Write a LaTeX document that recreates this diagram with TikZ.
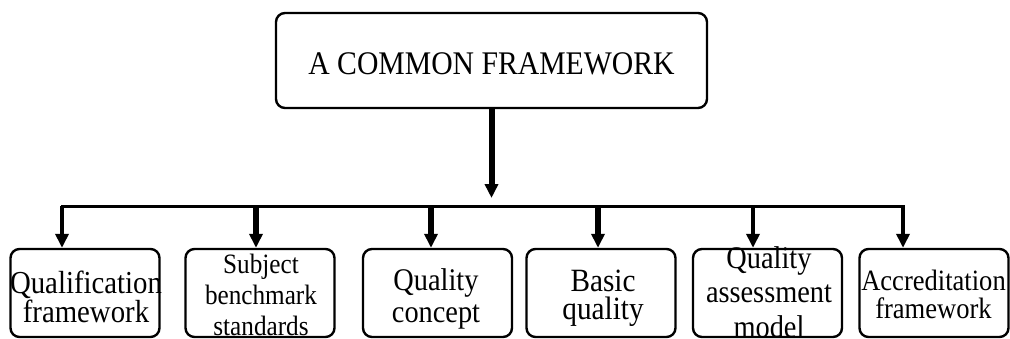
\documentclass[tikz,border=0pt]{standalone}
\usepackage{fontspec}
\setmainfont{Liberation Serif}[FakeStretch=0.9]
\usetikzlibrary{arrows.meta}

\begin{document}
\begin{tikzpicture}[x=1pt, y=-1pt,
    fwbox/.style={draw, line width=2.4pt, rounded corners=9pt, inner sep=0pt,
        minimum width=149pt, minimum height=88pt},
    fwtext/.style 2 args={align=center, inner sep=0pt,
        font={\fontsize{#1}{#2}\selectfont\lineskiplimit=-100pt}},
    feed/.style={line width=#1, -{Triangle[length=14pt, width=13pt]}},
    feed/.default=4pt]
    \useasboundingbox (0,0) rectangle (1010,338);

    % Caixa principal
    \node[fwbox, minimum width=431pt, minimum height=95pt] (common) at (491.5,60.5) {};
    \node[fwtext={33}{36}] (commontxt) at (491.5,64) {A COMMON FRAMEWORK};

    % Caixas dos componentes
    \node[fwbox] (qual)  at (85,293)    {};
    \node[fwbox] (subj)  at (260,293)   {};
    \node[fwbox] (conc)  at (437.5,293) {};
    \node[fwbox] (basic) at (601,293)   {};
    \node[fwbox] (assm)  at (767.5,293) {};
    \node[fwbox] (accr)  at (934,293)   {};

    % Textos das caixas
    \node[fwtext={32}{29}]     (qualtxt)  at (86,296.5)  {Qualification\\framework};
    \node[fwtext={28}{31}]     (subjtxt)  at (261,294.5) {Subject\\benchmark\\standards};
    \node[fwtext={31.5}{32}]   (conctxt)  at (436,298.5) {Quality\\concept};
    \node[fwtext={32.5}{28}]   (basictxt) at (603,298.5) {Basic\\quality};
    \node[fwtext={31.5}{34.5}] (assmtxt)  at (769,292)   {Quality\\assessment\\model};
    \node[fwtext={29.5}{28}]   (accrtxt)  at (933.5,294) {Accreditation\\framework};

    % Pontos da barra horizontal
    \coordinate (hub) at (491.5,198);
    \coordinate (b1) at (62,206);
    \coordinate (b2) at (256,206);
    \coordinate (b3) at (431,206);
    \coordinate (b4) at (598,206);
    \coordinate (b5) at (753,206);
    \coordinate (b6) at (903,206);

    % Seta principal e barra
    \draw[feed=6pt] (common.south) -- (hub);
    \draw[line width=3pt, line cap=rect] (b1) -- (b6);

    % Setas para as caixas
    \draw[feed] (b1) -- (qual.north -| b1);
    \draw[feed=6pt] (b2) -- (subj.north -| b2);
    \draw[feed=6pt] (b3) -- (conc.north -| b3);
    \draw[feed=6pt] (b4) -- (basic.north -| b4);
    \draw[feed] (b5) -- (assm.north -| b5);
    \draw[feed] (b6) -- (accr.north -| b6);
\end{tikzpicture}
\end{document}
